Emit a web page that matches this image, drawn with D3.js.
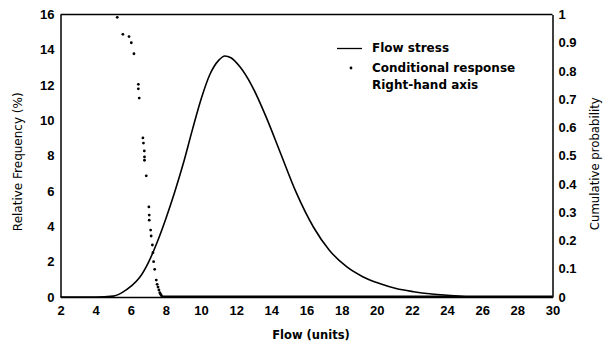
<!DOCTYPE html>
<html>
<head>
<meta charset="utf-8">
<script src="https://cdn.jsdelivr.net/npm/d3@7/dist/d3.min.js"></script>
<style>
  html, body { margin: 0; padding: 0; background: #fff; }
  svg { display: block; }
  text { font-family: "Liberation Sans", Arial, sans-serif; fill: #000; }
</style>
</head>
<body>
<svg id="chart" width="605" height="342"></svg>
<script>
// Flow stress (relative frequency, %)
const flowX = [2, 4.0, 5.0, 5.5, 6.0, 6.5, 7.0, 7.5, 8.0, 8.5, 9.0, 9.5, 10.0, 10.5, 11.0, 11.35, 11.7, 12.2, 12.9, 13.7, 14.5, 15.4, 16.4, 17.3, 18.3, 19.2, 20.2, 21.1, 22.1, 23.0, 24.0, 24.6, 25.2];
const flowY = [0, 0, 0.05, 0.25, 0.6, 1.1, 1.95, 3.1, 4.45, 5.95, 7.6, 9.45, 11.2, 12.6, 13.4, 13.65, 13.55, 13.05, 11.95, 10.2, 8.2, 5.95, 3.95, 2.65, 1.7, 1.15, 0.75, 0.48, 0.3, 0.18, 0.1, 0.05, 0];

// Conditional response (cumulative probability, right-hand axis)
const condX = [5.23, 5.55, 5.9, 6.03, 6.18, 6.43, 6.43, 6.48, 6.69, 6.72, 6.77, 6.78, 6.78, 6.88, 7.03, 7.05, 7.05, 7.13, 7.16, 7.23, 7.26, 7.3, 7.36, 7.45, 7.5, 7.55, 7.6, 7.65, 7.7, 7.74];
const condP = [0.99, 0.93, 0.922, 0.90, 0.861, 0.753, 0.737, 0.704, 0.563, 0.545, 0.517, 0.496, 0.484, 0.429, 0.319, 0.29, 0.272, 0.237, 0.216, 0.184, 0.157, 0.125, 0.098, 0.06, 0.045, 0.035, 0.025, 0.015, 0.01, 0.005];

const xTicks = [2, 4, 6, 8, 10, 12, 14, 16, 18, 20, 22, 24, 26, 28, 30];
const yLeftTicks = [0, 2, 4, 6, 8, 10, 12, 14, 16];
const yRightTicks = [0, 0.1, 0.2, 0.3, 0.4, 0.5, 0.6, 0.7, 0.8, 0.9, 1];

const legendLabels = ["Flow stress", "Conditional response", "Right-hand axis"];

const svg = d3.select("#chart");
const L = 60.5, R = 552.5, T = 14.5, B = 297;

const x = d3.scaleLinear().domain([2, 30]).range([L, R]);
const yL = d3.scaleLinear().domain([0, 16]).range([B, T]);
const yR = d3.scaleLinear().domain([0, 1]).range([B, T]);

const tickFont = "13px";
const wideFont = "'DejaVu Sans', sans-serif";

// Axes
const gx = svg.append("g").attr("transform", `translate(0,${B})`)
  .call(d3.axisBottom(x).tickValues(xTicks).tickSize(0).tickPadding(9).tickFormat(d3.format("d")));
const gl = svg.append("g").attr("transform", `translate(${L},0)`)
  .call(d3.axisLeft(yL).tickValues(yLeftTicks).tickSize(0).tickPadding(6).tickFormat(d3.format("d")));
const gr = svg.append("g").attr("transform", `translate(${R},0)`)
  .call(d3.axisRight(yR).tickValues(yRightTicks).tickSize(0).tickPadding(6).tickFormat(d => d === 0 || d === 1 ? d3.format("d")(d) : d3.format(".1f")(d)));

[gx, gl, gr].forEach(g => {
  g.select(".domain").attr("stroke", "#000").attr("stroke-width", 1.5);
  g.selectAll("text").style("font-size", tickFont).style("font-weight", "bold")
    .style("font-family", "'Liberation Sans', Arial, sans-serif").attr("fill", "#000");
});

// Top frame
svg.append("line").attr("x1", L).attr("x2", R).attr("y1", T).attr("y2", T)
  .attr("stroke", "#000").attr("stroke-width", 1.5);

// Flow stress curve
const line = d3.line().x(d => x(d[0])).y(d => yL(d[1])).curve(d3.curveMonotoneX);
svg.append("path")
  .datum(flowX.map((v, i) => [v, flowY[i]]))
  .attr("d", line)
  .attr("fill", "none").attr("stroke", "#000").attr("stroke-width", 1.6);

// Conditional response points
svg.append("g").selectAll("circle")
  .data(condX.map((v, i) => [v, condP[i]]))
  .enter().append("circle")
  .attr("cx", d => x(d[0])).attr("cy", d => yR(d[1]))
  .attr("r", 1.4).attr("fill", "#000");

// Conditional response continuing along zero (right of the drop)
svg.append("line")
  .attr("x1", x(condX[condX.length - 1])).attr("x2", R)
  .attr("y1", yR(0) - 0.5).attr("y2", yR(0) - 0.5)
  .attr("stroke", "#000").attr("stroke-width", 2);

// Axis titles
svg.append("text").attr("x", 311).attr("y", 339)
  .attr("text-anchor", "middle").style("font-size", "11.5px").style("font-weight", "bold")
  .style("font-family", wideFont)
  .text("Flow (units)");
svg.append("text").attr("transform", `translate(22,${(T + B) / 2 + 6}) rotate(-90)`)
  .attr("text-anchor", "middle").style("font-size", "12px").style("font-family", wideFont)
  .text("Relative Frequency (%)");
svg.append("text").attr("transform", `translate(599,${(T + B) / 2 + 8}) rotate(-90)`)
  .attr("text-anchor", "middle").style("font-size", "11.7px").style("font-family", wideFont)
  .text("Cumulative probability");

// Legend
const lg = svg.append("g");
lg.append("line").attr("x1", 337).attr("x2", 362).attr("y1", 48.5).attr("y2", 48.5)
  .attr("stroke", "#000").attr("stroke-width", 1.3);
lg.append("circle").attr("cx", 351).attr("cy", 68).attr("r", 1.4).attr("fill", "#000");
[48, 68, 85].forEach((yy, i) => {
  lg.append("text").attr("x", 372).attr("y", yy).attr("dy", "0.35em")
    .style("font-size", "12px").style("font-weight", "bold").style("font-family", wideFont)
    .text(legendLabels[i]);
});
</script>
</body>
</html>
